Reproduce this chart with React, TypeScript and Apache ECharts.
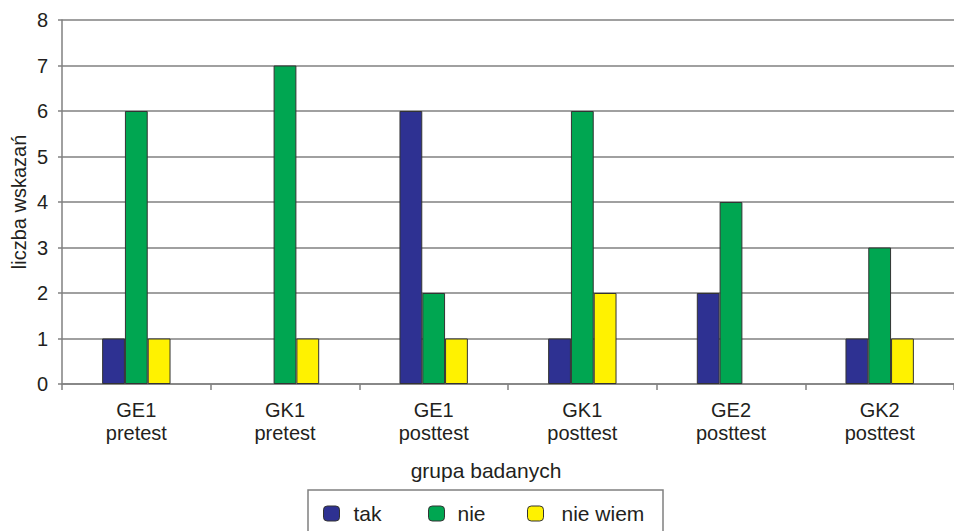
import React, { useEffect, useRef } from "react";
import * as echarts from "echarts";

const categories = ["GE1\npretest", "GK1\npretest", "GE1\nposttest", "GK1\nposttest", "GE2\nposttest", "GK2\nposttest"];
const takValues = [1, 0, 6, 1, 2, 1];
const nieValues = [6, 7, 2, 6, 4, 3];
const nieWiemValues = [1, 1, 1, 2, 0, 1];
const seriesNames = ["tak", "nie", "nie wiem"];
const seriesColors = ["#2E3192", "#00A651", "#FFF200"];
const yTicks = [0, 8, 1]; // min, max, interval

const FONT = "'Liberation Sans', Arial, sans-serif";

export default function App() {
  const ref = useRef<HTMLDivElement>(null);

  useEffect(() => {
    if (!ref.current) return;
    const chart = echarts.init(ref.current, undefined, { renderer: "svg" });
    const values = [takValues, nieValues, nieWiemValues];
    const legendLefts = [323, 428, 527];
    const legendTextGaps = [9, 8, 13];

    chart.setOption({
      animation: false,
      backgroundColor: "#ffffff",
      textStyle: { fontFamily: FONT },
      grid: { left: 62, top: 20, width: 899, height: 364, containLabel: false },
      xAxis: {
        type: "category",
        data: categories,
        axisLine: { show: true, lineStyle: { color: "#808080", width: 1.5 } },
        axisTick: { show: true, length: 6, alignWithLabel: false, lineStyle: { color: "#808080", width: 1.5 } },
        axisLabel: { fontSize: 20, lineHeight: 23, color: "#231f20", margin: 14, fontFamily: FONT, interval: 0 },
        splitLine: { show: false },
      },
      yAxis: {
        type: "value",
        min: yTicks[0],
        max: yTicks[1],
        interval: yTicks[2],
        axisLine: { show: true, lineStyle: { color: "#808080", width: 1.5 } },
        axisTick: { show: true, length: 4, lineStyle: { color: "#808080", width: 1.5 } },
        axisLabel: { fontSize: 20, color: "#231f20", margin: 14, fontFamily: FONT },
        splitLine: { show: true, lineStyle: { color: "#808080", width: 1.5 } },
      },
      legend: seriesNames.map((name, i) => ({
        data: [name],
        left: legendLefts[i],
        top: 503,
        padding: 0,
        itemWidth: 16,
        itemHeight: 15,
        itemStyle: { borderColor: "#333", borderWidth: 1 },
        textStyle: { fontSize: 21, color: "#231f20", fontFamily: FONT, padding: [0, 0, 0, legendTextGaps[i]] },
      })),
      graphic: [
        {
          type: "rect",
          shape: { x: 308, y: 490, width: 355, height: 60 },
          style: { fill: "none", stroke: "#808080", lineWidth: 1.5 },
          silent: true,
        },
        {
          type: "text",
          x: 486,
          y: 470,
          style: { text: "grupa badanych", fontSize: 21, fill: "#231f20", fontFamily: FONT, align: "center", verticalAlign: "middle" },
        },
        {
          type: "text",
          x: 19,
          y: 202,
          rotation: Math.PI / 2,
          style: { text: "liczba wskazań", fontSize: 20, fill: "#231f20", fontFamily: FONT, align: "center", verticalAlign: "middle" },
        },
      ],
      series: seriesNames.map((name, i) => ({
        name,
        type: "bar",
        data: values[i].map((v) => (v === 0 ? { value: v, itemStyle: { borderWidth: 0 } } : v)),
        barGap: "0%",
        barCategoryGap: "54%",
        itemStyle: { color: seriesColors[i], borderColor: "#333333", borderWidth: 1 },
      })),
    });

    return () => chart.dispose();
  }, []);

  return <div ref={ref} style={{ position: "fixed", left: 0, top: 0, width: 954, height: 531 }} />;
}
